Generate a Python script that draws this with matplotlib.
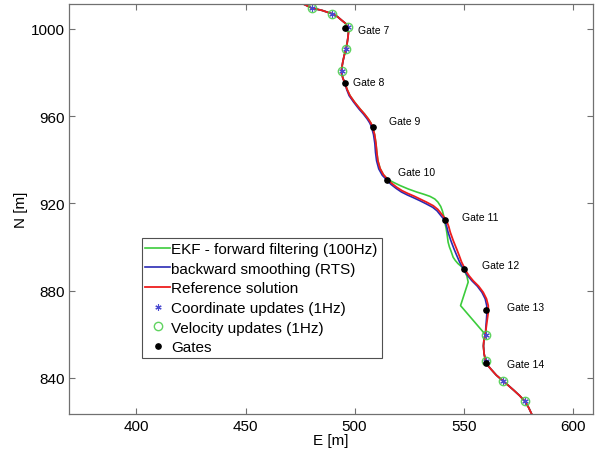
import numpy as np
import matplotlib
matplotlib.use('Agg')
import matplotlib.pyplot as plt
import matplotlib as mpl

mpl.rcParams.update({'font.size': 11, 'font.family': ['Liberation Sans', 'DejaVu Sans']})

# reference trajectory (E, N in metres), in four pieces
# start -> gate 8
top_E = [476.4, 480.3, 485.1, 489.8, 492.2, 494.3, 495.9, 496.8, 497.2, 497.0,
         496.6, 496.1, 495.3, 494.7, 494.2, 494.1, 494.6, 495.6]
top_N = [1011.5, 1009.6, 1008.5, 1006.9, 1005.6, 1003.8, 1002.5, 1000.8, 998.5, 996.3,
         993.5, 990.8, 988.0, 985.3, 982.5, 980.1, 977.5, 975.1]
# gate 8 -> gate 10
mid1_E = [496.6, 497.9, 500.0, 502.5, 504.6, 506.3, 507.5, 508.3, 509.2, 509.8,
          510.2, 510.7, 511.7, 513.2, 515.0]
mid1_N = [972.2, 969.4, 966.4, 963.3, 960.9, 958.7, 956.8, 954.9, 951.5, 947.5,
          943.4, 939.5, 936.0, 933.2, 931.2]
# gate 10 -> end of outage
mid2_E = [517.0, 519.3, 521.8, 524.5, 527.3, 530.0, 533.1, 536.1, 538.2, 539.9,
          541.3, 542.4, 543.2, 543.9, 545.3, 546.8, 548.0, 549.1, 550.1, 550.8,
          552.5, 554.4, 556.9, 559.0, 560.5, 561.3, 561.3, 560.9, 560.4, 560.0]
mid2_N = [929.2, 927.4, 925.8, 924.5, 923.3, 922.0, 920.5, 918.9, 917.2, 915.1,
          913.3, 911.5, 909.3, 906.7, 902.8, 899.1, 896.0, 893.0, 891.0, 889.4,
          886.8, 884.5, 882.0, 879.2, 876.2, 873.1, 870.0, 867.0, 863.3, 859.8]
# after the outage
bot_E = [559.3, 559.1, 559.4, 560.1, 561.0, 562.5, 565.0, 567.9, 570.5, 573.1,
         575.7, 578.1, 579.8, 581.2]
bot_N = [857.0, 854.6, 851.0, 847.8, 845.8, 844.0, 841.2, 838.7, 836.5, 834.2,
         831.8, 829.2, 826.4, 823.4]

# EKF forward filter after gate 10 (outage)
ekf_E = [517.5, 520.8, 524.6, 528.5, 531.7, 534.6, 536.8, 538.2, 539.5, 540.3,
         541.0, 541.4, 542.0, 542.4, 542.9, 543.5, 544.2, 545.2, 546.2, 547.4,
         549.5, 550.6, 551.5, 552.1, 548.6, 560.0]
ekf_N = [929.8, 928.2, 926.6, 925.2, 924.2, 923.2, 922.0, 920.6, 918.6, 916.5,
         913.8, 911.3, 908.5, 906.0, 902.2, 900.0, 898.2, 895.3, 893.8, 892.4,
         890.6, 888.6, 886.7, 883.9, 873.1, 859.8]

# RTS smoother after gate 8 (outage)
rts_E = [496.4, 497.5, 499.6, 502.0, 504.1, 505.8, 507.0, 507.8, 508.7, 509.3,
         509.6, 510.1, 511.1, 512.7, 514.6, 516.6, 519.0, 521.5, 524.3, 527.0,
         529.8, 532.8, 535.8, 537.8, 539.4, 540.7, 541.6, 542.3, 542.9, 544.2,
         545.6, 546.9, 548.2, 549.3, 550.2, 551.9, 553.8, 556.3, 558.4, 559.9,
         560.6, 560.7, 560.5, 560.2, 560.0]
rts_N = [972.2, 969.4, 966.4, 963.3, 960.9, 958.7, 956.8, 954.9, 951.5, 947.5,
         943.4, 939.5, 935.8, 932.9, 930.9, 928.8, 926.9, 925.2, 923.8, 922.6,
         921.3, 919.8, 918.2, 916.6, 914.6, 913.0, 911.3, 909.2, 906.7, 902.8,
         899.1, 896.0, 893.0, 891.0, 889.4, 886.8, 884.5, 882.0, 879.2, 876.2,
         873.1, 870.0, 867.0, 863.3, 859.8]

# 1 Hz updates
upd_E = [480.3, 489.8, 496.8, 496.1, 494.1, 560.2, 560.1, 567.9, 578.1]
upd_N = [1009.6, 1006.9, 1000.8, 990.8, 980.6, 859.8, 847.8, 838.7, 829.2]

gate_names = ['Gate 7', 'Gate 8', 'Gate 9', 'Gate 10', 'Gate 11', 'Gate 12',
              'Gate 13', 'Gate 14']
gate_E = [495.6, 495.6, 508.3, 515.0, 541.4, 550.3, 560.4, 560.5]
gate_N = [1000.3, 975.1, 954.9, 930.9, 912.2, 889.9, 871.2, 846.7]

# build full tracks
ref_E = top_E + mid1_E + mid2_E + bot_E
ref_N = top_N + mid1_N + mid2_N + bot_N
green_E = top_E + mid1_E + ekf_E + bot_E
green_N = top_N + mid1_N + ekf_N + bot_N
blue_E = top_E + rts_E + bot_E
blue_N = top_N + rts_N + bot_N

fig = plt.figure(figsize=(5.95, 4.52), dpi=100)
ax = fig.add_axes([0.1165, 0.0819, 0.880, 0.9064])

c_green = '#3ccc3c'
c_blue = '#2a2ab4'
c_red = '#ee1c1c'

ax.plot(green_E, green_N, color=c_green, lw=1.2,
        label='EKF - forward filtering (100Hz)')
ax.plot(blue_E, blue_N, color=c_blue, lw=1.2,
        label='backward smoothing (RTS)')
ax.plot(ref_E, ref_N, color=c_red, lw=1.3, label='Reference solution')
ax.plot(upd_E, upd_N, ls='none', marker=(6, 2, 0), ms=4.5, mew=0.8,
        color='#4a4ad0', label='Coordinate updates (1Hz)')
ax.plot(upd_E, upd_N, ls='none', marker='o', ms=6, mew=1.0, mfc='none',
        color='#44cc44', alpha=0.85, label='Velocity updates (1Hz)')
ax.plot(gate_E, gate_N, ls='none', marker='o', ms=3.8, color='black',
        label='Gates')

# gate labels, offsets in points
offsets = [(9.5, -1), (5.5, 0.7), (12, 4.7), (7.5, 5.3), (12.7, 2.7),
           (12.5, 2.9), (15, 1.7), (15, -0.5)]
for name, e, n, off in zip(gate_names, gate_E, gate_N, offsets):
    ax.annotate(name, (e, n), xytext=off, textcoords='offset points',
                fontsize=7.5, ha='left', va='center')

ax.set_xlim(369.2, 609.3)
ax.set_ylim(823.4, 1011.3)
ax.set_xticks([400, 450, 500, 550, 600])
ax.set_yticks([840, 880, 920, 960, 1000])
ax.set_xlabel('E [m]', labelpad=0)
ax.set_ylabel('N [m]', labelpad=2)

ax.tick_params(direction='in', top=True, right=True, length=4,
               color='#707070', labelsize=11)
for s in ax.spines.values():
    s.set_color('#707070')
    s.set_linewidth(0.9)

leg = ax.legend(loc='upper left', bbox_to_anchor=(0.138, 0.429),
                borderaxespad=0, fontsize=11, handlelength=1.6,
                handletextpad=0.1, labelspacing=0.37, borderpad=0.25,
                fancybox=False, framealpha=1)
leg.get_frame().set_edgecolor('#505050')
leg.get_frame().set_linewidth(0.8)

plt.savefig('out.png', dpi=100)
